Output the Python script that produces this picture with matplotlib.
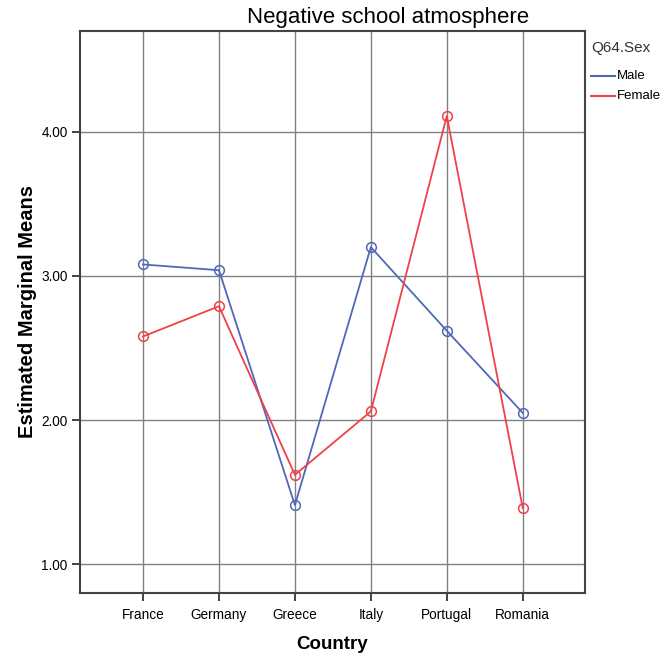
import matplotlib
matplotlib.use("Agg")
import matplotlib.pyplot as plt
from matplotlib.lines import Line2D

plt.rcParams['font.family'] = ['Liberation Sans', 'DejaVu Sans']

countries = ["France", "Germany", "Greece", "Italy", "Portugal", "Romania"]
male = [3.08, 3.04, 1.41, 3.20, 2.62, 2.05]
female = [2.58, 2.79, 1.62, 2.06, 4.11, 1.39]
y_ticks = [1.0, 2.0, 3.0, 4.0]

male_color = "#5068b8"
female_color = "#f0404a"

fig = plt.figure(figsize=(6.64, 6.62), dpi=100)
ax = fig.add_axes([80 / 664, 1 - 593 / 662, 505 / 664, 562 / 662])

x = list(range(len(countries)))
ax.plot(x, male, color=male_color, lw=1.3, marker="o", ms=7,
        mfc="none", mec=male_color, mew=1.1, zorder=3)
ax.plot(x, female, color=female_color, lw=1.3, marker="o", ms=7,
        mfc="none", mec=female_color, mew=1.1, zorder=3)

ax.set_xlim(-0.83, 5.82)
ax.set_ylim(0.80, 4.70)
ax.set_xticks(x)
ax.set_xticklabels(countries, fontsize=9.8)
ax.set_yticks(y_ticks)
ax.set_yticklabels(["%.2f" % v for v in y_ticks], fontsize=9.8)
ax.tick_params(axis="both", length=6, width=1.3, color="#333333", pad=3)
ax.tick_params(axis="x", pad=5)

ax.grid(True, color="#808080", lw=1.0, zorder=0)
for s in ax.spines.values():
    s.set_color("#444444")
    s.set_linewidth(1.5)

ax.set_xlabel("Country", fontsize=13.5, fontweight="bold", labelpad=10)
ax.set_ylabel("Estimated Marginal Means", fontsize=14.5, fontweight="bold", labelpad=3)

fig.text(388 / 664, 1 - 17 / 662, "Negative school atmosphere",
         fontsize=16, ha="center", va="center")

# legend drawn by hand at the right of the plot
fig.text(591 / 664, 1 - 48 / 662, "Q64.Sex", fontsize=11, color="#333333",
         ha="left", va="center", fontstretch="condensed")
for yy, lab, col in [(76, "Male", male_color), (96, "Female", female_color)]:
    fy = 1 - yy / 662
    fig.add_artist(Line2D([591 / 664, 615 / 664], [fy, fy], color=col, lw=1.5))
    fig.text(617 / 664, fy, lab, fontsize=9.5, ha="left", va="center")

fig.savefig("out.png", dpi=100)
